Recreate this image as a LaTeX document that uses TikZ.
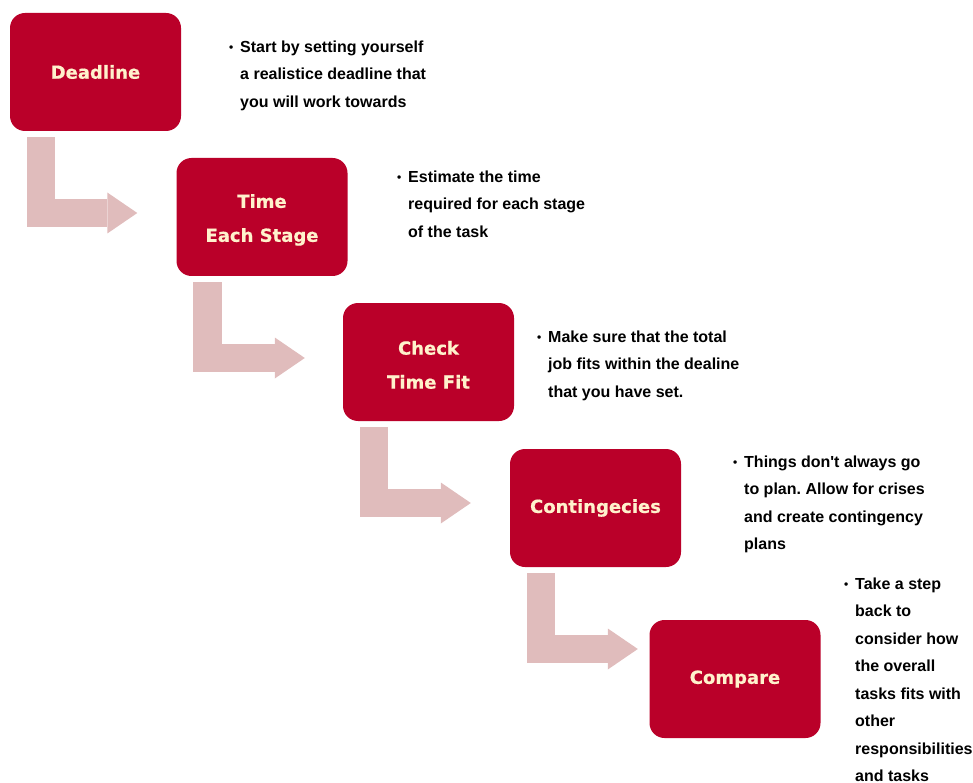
\documentclass[tikz,border=0pt]{standalone}
\usepackage{fontspec}
\setmainfont{Liberation Sans}
\newfontfamily\stagefont{DejaVu Sans}[FakeBold=0.6]
\usetikzlibrary{arrows.meta}
\definecolor{stagered}{RGB}{186,0,41}
\definecolor{stagetext}{RGB}{255,242,204}
\definecolor{bendpink}{RGB}{224,188,188}
\frenchspacing
\newcommand{\notedot}{\llap{\raisebox{1pt}{\fontsize{12}{12}\selectfont•}\hspace{7pt}}}
\newcommand{\titlestrut}{\rule{0pt}{19.5pt}}

\begin{document}
\begin{tikzpicture}[x=1pt, y=-1pt,
        stage/.style={fill=stagered, rounded corners=15pt, minimum width=171pt, minimum height=118pt,
            inner sep=0pt, align=center, text=stagetext, font=\stagefont\bfseries\fontsize{18}{34}\selectfont},
        note/.style={anchor=north west, align=left, inner sep=0pt, font=\bfseries\fontsize{16}{27.5}\selectfont},
        bentarrow/.style={draw=bendpink, line width=28.5pt,
            -{Triangle[length=30pt, width=41pt, line width=0pt, fill=bendpink]}}]
        \useasboundingbox (0,0) rectangle (973,783);
        % Planning stages
        \node[stage] (deadline) at (95.5,72) {Deadline};
        \node[stage] (eachstage) at (262,217) {\titlestrut Time\\Each Stage};
        \node[stage] (timefit) at (428.5,362) {\titlestrut Check\\Time Fit};
        \node[stage] (contingency) at (595.5,508) {Contingecies};
        \node[stage] (compare) at (735,679) {Compare};
        % Notes beside each stage
        \node[note] (deadlinenote) at (240,40.3) {\notedot Start by setting yourself\\a realistice deadline that\\you will work towards};
        \node[note] (eachstagenote) at (408,170.3) {\notedot Estimate the time\\required for each stage\\of the task};
        \node[note] (timefitnote) at (548,330.3) {\notedot Make sure that the total\\job fits within the dealine\\that you have set.};
        \node[note] (contingencynote) at (744,455.3) {\notedot Things don\textquotesingle t always go\\to plan. Allow for crises\\and create contingency\\plans};
        \node[note] (comparenote) at (855,577.3) {\notedot Take a step\\back to\\consider how\\the overall\\tasks fits with\\other\\responsibilities\\and tasks};
        % Bent arrows from stage to stage
        \foreach \from/\to/\dy/\gap in {
            deadline/eachstage/4/39,
            eachstage/timefit/4/38,
            timefit/contingency/5/39,
            contingency/compare/30/11.5
        } {
            \draw[bentarrow, shorten >=\gap pt] ([xshift=31pt, yshift=-6pt]\from.south west) |- ([yshift=\dy pt]\to.west);
        }
    \end{tikzpicture}
\end{document}
